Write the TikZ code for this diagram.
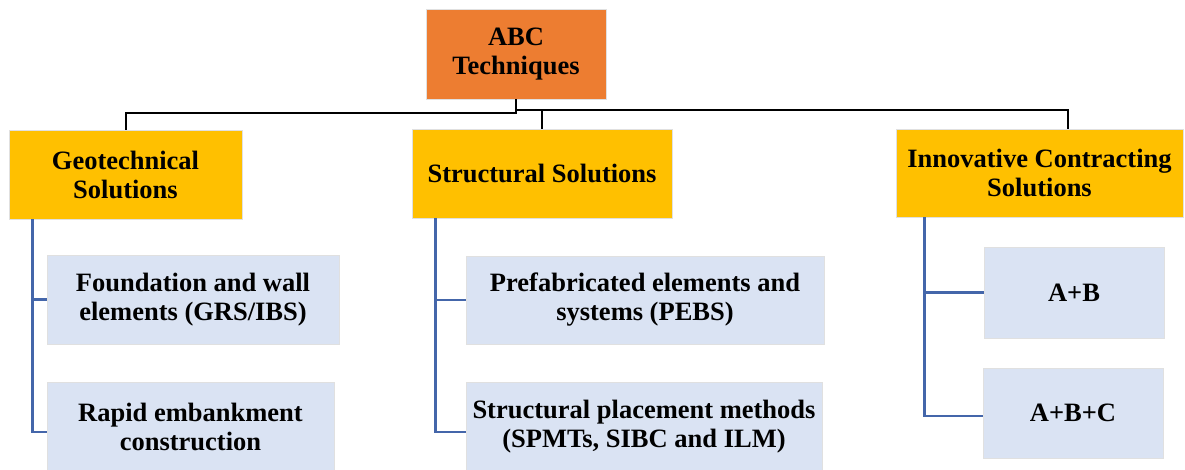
\documentclass[tikz,border=0pt]{standalone}
\usepackage{fontspec}
\setmainfont{Liberation Serif}
\definecolor{abcorange}{RGB}{237,125,49}
\definecolor{headyellow}{RGB}{255,192,0}
\definecolor{subblue}{RGB}{218,227,243}
\definecolor{treeblue}{RGB}{68,102,170}
\begin{document}
\begin{tikzpicture}[x=1pt,y=-1pt,
  every node/.style={font=\bfseries\fontsize{26.5}{29}\selectfont, align=center, inner sep=0pt},
  box/.style={draw=black!12, line width=0.8pt},
  topbox/.style={box, fill=abcorange},
  headbox/.style={box, fill=headyellow},
  subbox/.style={box, fill=subblue},
  tree/.style={line width=2pt, black},
  branch/.style={line width=2.5pt, treeblue}]
\useasboundingbox (0,0) rectangle (1185,469);
% top
\node[topbox, minimum width=180pt, minimum height=90pt] (abc) at (516,54) {ABC\\Techniques};
% headers
\node[headbox, minimum width=233pt, minimum height=89pt] (geo) at (125.5,174.5) {Geotechnical\\Solutions};
\node[headbox, minimum width=260pt, minimum height=89pt] (struct) at (542,173.5) {Structural Solutions};
\node[headbox, minimum width=287pt, minimum height=88pt] (innov) at (1039.5,173) {Innovative Contracting\\Solutions};
% sub boxes
\node[subbox, minimum width=292pt, minimum height=89pt] (geo1) at (193,299.5) {Foundation and wall\\elements (GRS/IBS)};
\node[subbox, minimum width=287pt, minimum height=89pt] (geo2) at (190.5,426.5) {Rapid embankment\\construction};
\node[subbox, minimum width=358pt, minimum height=88pt] (struct1) at (645,300) {Prefabricated elements and\\systems (PEBS)};
\node[subbox, minimum width=356pt, minimum height=89pt] (struct2) at (644,426.5) {Structural placement methods\\(SPMTs, SIBC and ILM)};
\node[subbox, minimum width=180pt, minimum height=91pt] (innov1) at (1074,292.5) {A+B};
\node[subbox, minimum width=180pt, minimum height=90pt] (innov2) at (1073,413) {A+B+C};
% black tree
\coordinate (bar) at ([yshift=-11pt]abc.south);
\draw[tree] (abc.south) -- ++(0,14) -| (geo.north);
\draw[tree] (bar) -| ([xshift=28.5pt]innov.north);
\draw[tree] (struct.north) -- (struct.north |- bar);
% blue branches
\coordinate (gtop) at ([xshift=24pt]geo.south west);
\draw[branch] (gtop) |- ([yshift=-5.5pt]geo2.west);
\draw[branch] (gtop |- geo1.west) -- (geo1.west);
\coordinate (stop) at ([xshift=24pt]struct.south west);
\draw[branch] (stop) |- ([yshift=-5.5pt]struct2.west);
\draw[branch] (stop |- struct1.west) -- (struct1.west);
\coordinate (itop) at ([xshift=29pt]innov.south west);
\draw[branch] (itop) |- ([yshift=-3pt]innov2.west);
\draw[branch] (itop |- innov1.west) -- (innov1.west);
\end{tikzpicture}
\end{document}
